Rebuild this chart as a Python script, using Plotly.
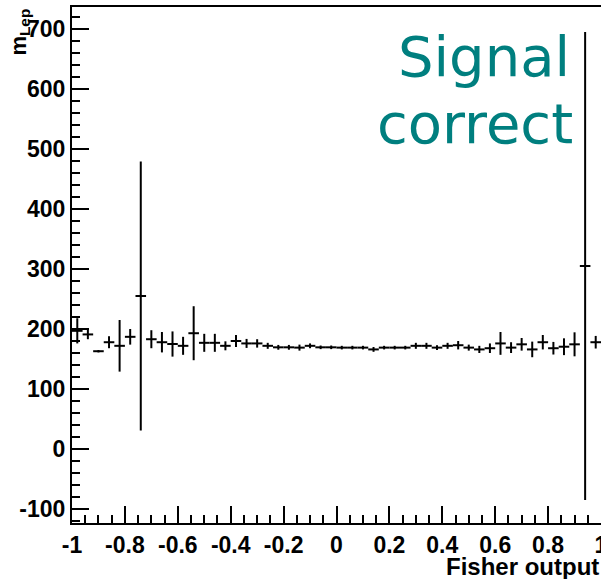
import plotly.graph_objects as go

# Bin centres of the profile (Fisher output), bin width 0.04
bin_centers = [-0.98, -0.94, -0.90, -0.86, -0.82, -0.78, -0.74, -0.70, -0.66, -0.62,
               -0.58, -0.54, -0.50, -0.46, -0.42, -0.38, -0.34, -0.30, -0.26, -0.22,
               -0.18, -0.14, -0.10, -0.06, -0.02, 0.02, 0.06, 0.10, 0.14, 0.18,
               0.22, 0.26, 0.30, 0.34, 0.38, 0.42, 0.46, 0.50, 0.54, 0.58,
               0.62, 0.66, 0.70, 0.74, 0.78, 0.82, 0.86, 0.90, 0.94, 0.98]
bin_halfwidth = [0.02] * 50

# Mean m_Lep per bin
m_lep = [197, 191, 163, 178, 172, 187, 255, 183, 178, 175,
         172, 193, 177, 177, 172, 180, 176, 176, 172, 169.5,
         169.5, 169, 172, 169.5, 169.5, 169, 169, 169, 166, 169,
         169, 169, 172, 172, 169, 172, 173, 169, 166, 168,
         176, 169, 174.5, 166, 178, 168, 170.5, 174.5, 305, 178]

# Error on the mean per bin
m_lep_err = [21, 8, 2, 10, 43, 13, 224, 15, 17, 21,
             15, 45, 15, 15, 7.5, 10, 7.5, 7, 5, 4,
             4, 5, 4, 3, 3, 3, 3, 3, 4, 3,
             3, 3, 5, 5, 4, 5, 7, 5, 6, 8,
             19, 9, 10.5, 13, 12, 10.5, 14, 20, 390, 10.5]

x_tick_vals = [-1, -0.8, -0.6, -0.4, -0.2, 0, 0.2, 0.4, 0.6, 0.8, 1]
x_tick_text = ["-1", "-0.8", "-0.6", "-0.4", "-0.2", "0", "0.2", "0.4", "0.6", "0.8", "1"]
y_tick_vals = [-100, 0, 100, 200, 300, 400, 500, 600, 700]
y_tick_text = ["-100", "0", "100", "200", "300", "400", "500", "600", "700"]

fig = go.Figure()
fig.add_trace(go.Scatter(
    x=bin_centers, y=m_lep, mode="markers",
    marker=dict(size=1, color="rgba(0,0,0,0)"),
    error_x=dict(type="data", array=bin_halfwidth, width=0, thickness=2, color="black"),
    error_y=dict(type="data", array=m_lep_err, width=0, thickness=2, color="black"),
    showlegend=False, hoverinfo="x+y",
))

tick_font = dict(family="Liberation Sans, Arial, sans-serif", size=23, color="black", weight="bold")

fig.update_layout(
    width=601, height=579,
    margin=dict(l=72, r=0, t=7, b=56, autoexpand=False),
    paper_bgcolor="white", plot_bgcolor="white",
    xaxis=dict(
        range=[-1, 1], showgrid=False, zeroline=False, automargin=False,
        showline=True, linecolor="black", linewidth=2, mirror=True,
        ticks="inside", ticklen=17, tickwidth=2, tickcolor="black",
        tickvals=x_tick_vals, ticktext=x_tick_text, tickfont=tick_font,
        ticklabeloverflow="allow",
        minor=dict(ticks="inside", ticklen=8, tickwidth=2, tickcolor="black", dtick=0.05, showgrid=False),
    ),
    yaxis=dict(
        range=[-123.3, 736.7], showgrid=False, zeroline=False, automargin=False,
        showline=True, linecolor="black", linewidth=2, mirror=False,
        ticks="inside", ticklen=17, tickwidth=2, tickcolor="black",
        tickvals=y_tick_vals, ticktext=y_tick_text, tickfont=tick_font,
        ticklabeloverflow="allow",
        minor=dict(ticks="inside", ticklen=8, tickwidth=2, tickcolor="black", dtick=20, showgrid=False),
    ),
    annotations=[
        dict(text="Fisher output", xref="paper", yref="paper", x=1.0, y=-0.0543,
             xanchor="right", yanchor="top", showarrow=False,
             font=dict(family="Liberation Sans, Arial, sans-serif", size=24, color="black", weight="bold")),
        dict(text="m<sub>Lep</sub>", xref="paper", yref="paper", x=-0.100, y=1.0,
             xanchor="center", yanchor="top", showarrow=False, textangle=-90,
             font=dict(family="Liberation Sans, Arial, sans-serif", size=22, color="black", weight="bold")),
        dict(text="Signal", xref="paper", yref="paper", x=0.945, y=0.971,
             xanchor="right", yanchor="top", showarrow=False,
             font=dict(family="DejaVu Sans", size=56, color="#007f7f")),
        dict(text="correct", xref="paper", yref="paper", x=0.951, y=0.841,
             xanchor="right", yanchor="top", showarrow=False,
             font=dict(family="DejaVu Sans", size=56, color="#007f7f")),
    ],
)

fig.write_html("out.html", config={"displayModeBar": False},
               post_script="document.body.style.margin='0px';document.body.style.overflow='hidden';")
